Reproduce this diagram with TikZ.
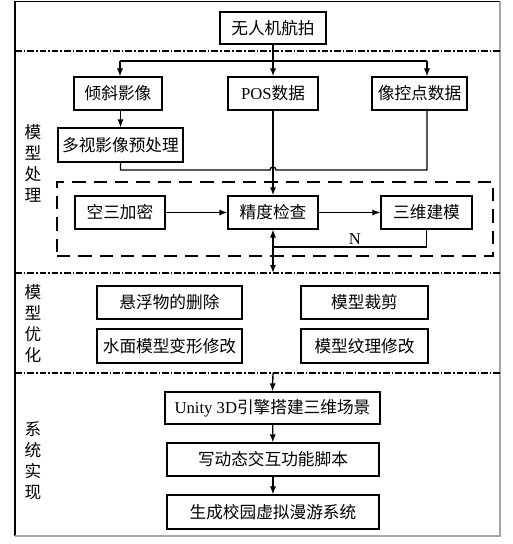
\documentclass[tikz,border=0pt]{standalone}
\usepackage{fontspec}
\setmainfont{Noto Sans CJK SC}
\newfontfamily\lat{Liberation Serif}
\usetikzlibrary{arrows.meta}
\begin{document}
\begin{tikzpicture}[x=0.75pt,y=-0.75pt,
  bx/.style 2 args={draw, line width=0.9pt, inner sep=0pt,
    minimum width={#1*0.75pt}, minimum height={#2*0.75pt},
    font=\fontsize{12.5}{14}\selectfont},
  lbl/.style={align=center, inner sep=0pt, font=\fontsize{12.5}{15.75}\selectfont},
  conn/.style={line width=1pt},
  mainline/.style={line width=1.4pt},
  arr/.style={-{Latex[length=6pt,width=4.6pt]}},
  sepline/.style={line width=1pt, dash pattern=on 5pt off 1.5pt on 1.2pt off 1.5pt},
  grpbox/.style={draw, line width=1.6pt, dash pattern=on 10pt off 6pt, inner sep=0pt,
    minimum width={436*0.75pt}, minimum height={74*0.75pt}}]
\useasboundingbox (0,0) rectangle (512,544);
% frame
\draw[line width=1pt] (15,536) -- (15,1.5) -- (500,1.5);
\draw[line width=1.2pt, gray!70] (500,1.5) -- (500,536) -- (15,536);
% separators
\draw[sepline] (15,51) -- (500,51);
\draw[sepline] (15,273) -- (500,273);
\draw[sepline] (15,373) -- (500,373);
% nodes
\node[bx={106}{32}] (top) at (273,28) {无人机航拍};
\node[bx={88}{33}] (tilt) at (118,93.5) {倾斜影像};
\node[bx={90}{33}] (pos) at (273,93.5) {{\lat POS}数据};
\node[bx={95}{33}] (gcp) at (419.5,93.5) {像控点数据};
\node[bx={125}{34}] (multi) at (120.5,145) {多视影像预处理};
\node[grpbox] (grp) at (275,219) {};
\node[bx={90}{33}] (aero) at (120,212.5) {空三加密};
\node[bx={90}{33}] (check) at (273,212.5) {精度检查};
\node[bx={91}{33}] (model) at (426.5,212.5) {三维建模};
\node[bx={145}{33}] (float) at (169.5,302.5) {悬浮物的删除};
\node[bx={127}{33}] (clip) at (364.5,302.5) {模型裁剪};
\node[bx={145}{34}] (water) at (169.5,346) {水面模型变形修改};
\node[bx={127}{34}] (tex) at (364.5,346) {模型纹理修改};
\node[bx={215}{32}] (unity) at (272.5,408) {{\lat Unity 3D}引擎搭建三维场景};
\node[bx={212}{33}] (script) at (273,459.5) {写动态交互功能脚本};
\node[bx={212}{34}] (gen) at (273,512) {生成校园虚拟漫游系统};
% side labels
\node[lbl] (lab1) at (33,163.5) {模\\型\\处\\理};
\node[lbl] (lab2) at (33,323.5) {模\\型\\优\\化};
\node[lbl] (lab3) at (33,460.5) {系\\统\\实\\现};
% coordinates
\coordinate (bL) at (120,61);
\coordinate (bR) at (427,61);
\coordinate (hop) at (270,170);
\coordinate (fb) at (273,247);
\coordinate (d2) at (273,273);
\coordinate (d3) at (273,373);
% connectors
\draw[mainline, arr] (top.south) -- (pos.north);
\draw[conn] (bL) -- (bR);
\draw[conn, arr] (bL) -- (tilt.north -| bL);
\draw[conn, arr] (bR) -- (gcp.north -| bR);
\draw[conn, arr] (tilt.south -| multi.north) -- (multi.north);
\draw[mainline, arr] (pos.south) -- (check.north);
\draw[conn] (multi.south) |- (hop) arc[start angle=180, end angle=0, radius=2.25pt] -| (gcp.south -| bR);
\draw[conn, arr] (aero) -- (check);
\draw[conn, arr] (check) -- (model);
\draw[conn, arr] (model.south) -- (model.south |- fb) -- (fb) -- (check.south);
\node[font=\lat\fontsize{12.5}{14}\selectfont, inner sep=0pt] (nlab) at (355,239) {N};
\draw[conn, arr] (fb) -- (d2);
\draw[conn, arr] (d3) -- (unity.north);
\draw[conn, arr] (unity) -- (script);
\draw[conn, arr] (script) -- (gen);
\end{tikzpicture}
\end{document}
